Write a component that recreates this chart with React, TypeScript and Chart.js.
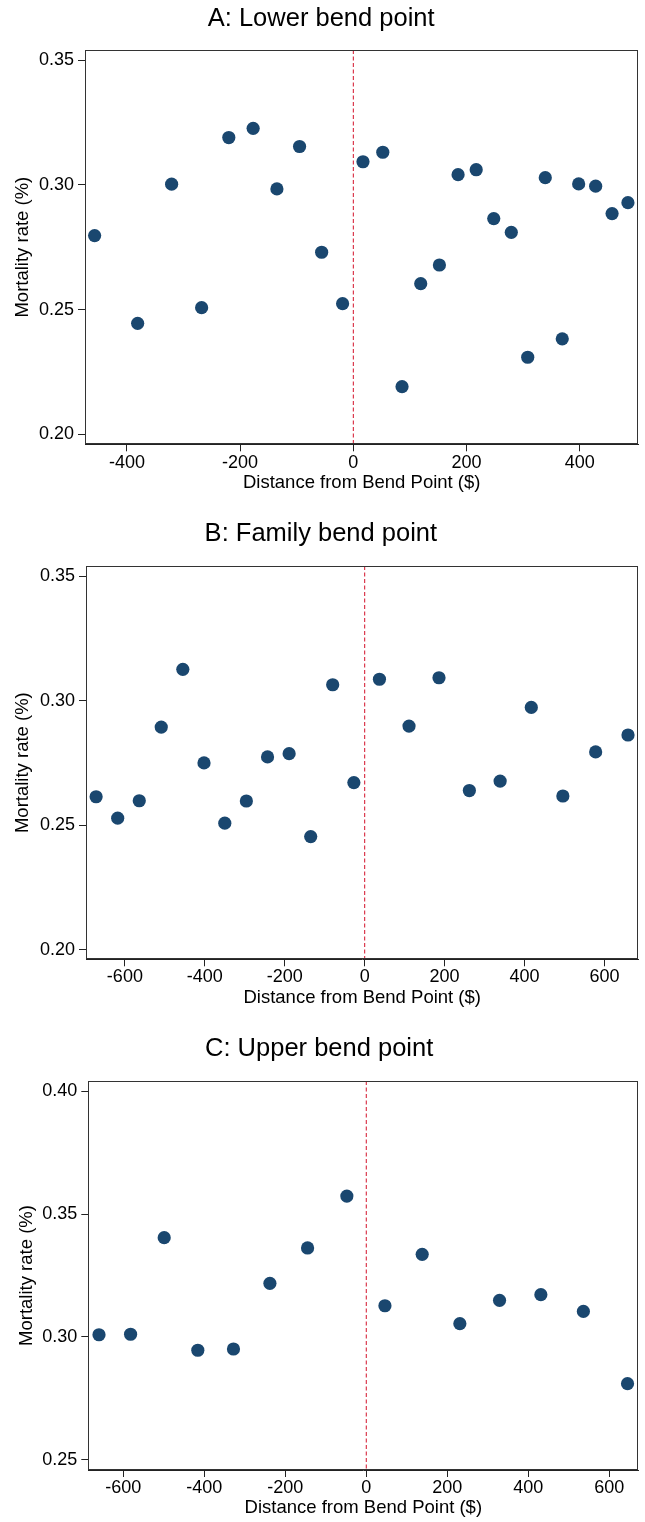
import React, { useEffect, useRef } from "react";
import { Chart, registerables } from "chart.js";

Chart.register(...registerables);

const FONT = '"Liberation Sans", Arial, Helvetica, sans-serif';
const NAVY = "#1a476f";
const REF_RED = "#d7263d";
const INK = "#000000";

const xAxisTitle = "Distance from Bend Point ($)";
const yAxisTitle = "Mortality rate (%)";

// position of the bend point on the x axis
const bendPoint = 0;

// Panel A: lower bend point
const lowerTitle = "A: Lower bend point";
const lowerX = [-457, -381, -321, -268, -220, -177, -135, -95, -56, -19, 17, 52, 86, 119, 152, 185, 217, 248, 279, 308, 339, 369, 398, 428, 457, 485];
const lowerY = [0.2797, 0.2445, 0.3003, 0.2508, 0.319, 0.3227, 0.2984, 0.3154, 0.273, 0.2524, 0.3093, 0.3131, 0.2191, 0.2604, 0.2679, 0.3041, 0.3061, 0.2865, 0.281, 0.2309, 0.3029, 0.2383, 0.3004, 0.2995, 0.2885, 0.2929];
const lowerXTicks = [-400, -200, 0, 200, 400];
const lowerYTicks = [0.2, 0.25, 0.3, 0.35];

// Panel B: family bend point
const familyTitle = "B: Family bend point";
const familyX = [-672, -618, -564, -509, -455, -402, -350, -296, -243, -189, -135, -80, -27, 37, 111, 186, 262, 339, 417, 496, 578, 659];
const familyY = [0.2614, 0.2528, 0.2598, 0.2894, 0.3126, 0.275, 0.2508, 0.2597, 0.2774, 0.2787, 0.2454, 0.3064, 0.2671, 0.3086, 0.2898, 0.3092, 0.2639, 0.2677, 0.2973, 0.2617, 0.2794, 0.2862];
const familyXTicks = [-600, -400, -200, 0, 200, 400, 600];
const familyYTicks = [0.2, 0.25, 0.3, 0.35];

// Panel C: upper bend point
const upperTitle = "C: Upper bend point";
const upperX = [-660, -582, -499, -416, -328, -238, -145, -48, 46, 138, 231, 329, 431, 536, 645];
const upperY = [0.3009, 0.3011, 0.3404, 0.2946, 0.2951, 0.3218, 0.3362, 0.3573, 0.3127, 0.3336, 0.3054, 0.3149, 0.3172, 0.3104, 0.281];
const upperXTicks = [-600, -400, -200, 0, 200, 400, 600];
const upperYTicks = [0.25, 0.3, 0.35, 0.4];

type PanelProps = {
  title: string;
  xs: number[];
  ys: number[];
  xTicks: number[];
  yTicks: number[];
  xMin: number;
  xMax: number;
  yMin: number;
  yMax: number;
  top: number;
  height: number;
  padRight: number;
  titleTop: number;
  titleBottom: number;
  yAxisWidth: number;
  xAxisHeight: number;
  xTickPad: number;
  xTitleBottom: number;
  yTitleTop: number;
};

const bendAndFrame = {
  id: "bendAndFrame",
  beforeDatasetsDraw(chart: any) {
    const { ctx, chartArea: a, scales } = chart;
    const px = scales.x.getPixelForValue(bendPoint);
    ctx.save();
    ctx.beginPath();
    ctx.rect(a.left, a.top, a.right - a.left, a.bottom - a.top);
    ctx.clip();
    ctx.strokeStyle = REF_RED;
    ctx.lineWidth = 1.1;
    ctx.setLineDash([4, 2.5]);
    ctx.beginPath();
    ctx.moveTo(px, a.top);
    ctx.lineTo(px, a.bottom);
    ctx.stroke();
    ctx.restore();
  },
  afterDraw(chart: any) {
    const { ctx, chartArea: a } = chart;
    ctx.save();
    ctx.strokeStyle = "#333333";
    ctx.lineWidth = 1;
    ctx.strokeRect(Math.round(a.left) + 0.5, Math.round(a.top) + 0.5, Math.round(a.right - a.left) - 1, Math.round(a.bottom - a.top) - 1);
    ctx.restore();
  },
};

function Panel(p: PanelProps) {
  const ref = useRef<HTMLCanvasElement | null>(null);

  useEffect(() => {
    if (!ref.current) return;
    const tickFont = { family: FONT, size: 18 };
    const axisTitleFont = { family: FONT, size: 18.5 };
    const chart = new Chart(ref.current, {
      type: "scatter",
      data: {
        datasets: [
          {
            data: p.xs.map((x, i) => ({ x, y: p.ys[i] })),
            backgroundColor: NAVY,
            borderWidth: 0,
            pointRadius: 6.6,
            pointHoverRadius: 6.6,
          },
        ],
      },
      options: {
        responsive: false,
        animation: false,
        events: [],
        layout: { padding: { left: 0, right: p.padRight, top: 0, bottom: 0 } },
        plugins: {
          legend: { display: false },
          tooltip: { enabled: false },
          title: {
            display: true,
            text: p.title,
            color: INK,
            font: { family: FONT, size: 25.5, weight: "normal" },
            padding: { top: p.titleTop, bottom: p.titleBottom },
          },
        },
        scales: {
          x: {
            type: "linear",
            min: p.xMin,
            max: p.xMax,
            afterBuildTicks: (s: any) => {
              s.ticks = p.xTicks.map((v) => ({ value: v }));
            },
            afterFit: (s: any) => {
              s.height = p.xAxisHeight;
            },
            ticks: {
              color: INK,
              font: tickFont,
              padding: p.xTickPad,
              autoSkip: false,
              maxRotation: 0,
              callback: (v: any) => String(v),
            },
            grid: { drawOnChartArea: false, drawTicks: true, tickLength: 7, color: "#222", lineWidth: 1 },
            border: { display: true, color: "#222", width: 1 },
            title: {
              display: true,
              text: xAxisTitle,
              color: INK,
              font: axisTitleFont,
              padding: { top: 0, bottom: p.xTitleBottom },
            },
          },
          y: {
            type: "linear",
            min: p.yMin,
            max: p.yMax,
            afterBuildTicks: (s: any) => {
              s.ticks = p.yTicks.map((v) => ({ value: v }));
            },
            afterFit: (s: any) => {
              s.width = p.yAxisWidth;
            },
            ticks: {
              color: INK,
              font: tickFont,
              padding: 4,
              autoSkip: false,
              callback: (v: any) => Number(v).toFixed(2),
            },
            grid: { drawOnChartArea: false, drawTicks: true, tickLength: 7, color: "#222", lineWidth: 1 },
            border: { display: true, color: "#222", width: 1 },
            title: {
              display: true,
              text: yAxisTitle,
              color: INK,
              font: axisTitleFont,
              padding: { top: p.yTitleTop, bottom: 0 },
            },
          },
        },
      } as any,
      plugins: [bendAndFrame],
    });
    return () => chart.destroy();
  }, []);

  return (
    <canvas
      ref={ref}
      width={645}
      height={p.height}
      style={{ position: "absolute", left: 0, top: p.top, width: 645, height: p.height, display: "block" }}
    />
  );
}

export default function App() {
  return (
    <div style={{ position: "absolute", left: 0, top: 0, width: 645, height: 1522, background: "#ffffff" }}>
      <Panel
        title={lowerTitle}
        xs={lowerX}
        ys={lowerY}
        xTicks={lowerXTicks}
        yTicks={lowerYTicks}
        xMin={-474}
        xMax={503.5}
        yMin={0.196}
        yMax={0.3541}
        top={0}
        height={507}
        padRight={2.7}
        titleTop={3.2}
        titleBottom={16.2}
        yAxisWidth={85}
        xAxisHeight={62.7}
        xTickPad={1.2}
        xTitleBottom={12.9}
        yTitleTop={11.4}
      />
      <Panel
        title={familyTitle}
        xs={familyX}
        ys={familyY}
        xTicks={familyXTicks}
        yTicks={familyYTicks}
        xMin={-697.3}
        xMax={685}
        yMin={0.1961}
        yMax={0.3541}
        top={507}
        height={507}
        padRight={3.3}
        titleTop={11.7}
        titleBottom={16.7}
        yAxisWidth={86}
        xAxisHeight={54.7}
        xTickPad={0}
        xTitleBottom={4.9}
        yTitleTop={12.2}
      />
      <Panel
        title={upperTitle}
        xs={upperX}
        ys={upperY}
        xTicks={upperXTicks}
        yTicks={upperYTicks}
        xMin={-686.4}
        xMax={671.6}
        yMin={0.2459}
        yMax={0.4041}
        top={1014}
        height={508}
        padRight={6.7}
        titleTop={19.7}
        titleBottom={16.7}
        yAxisWidth={88.3}
        xAxisHeight={52}
        xTickPad={0}
        xTitleBottom={2.9}
        yTitleTop={15.7}
      />
    </div>
  );
}
